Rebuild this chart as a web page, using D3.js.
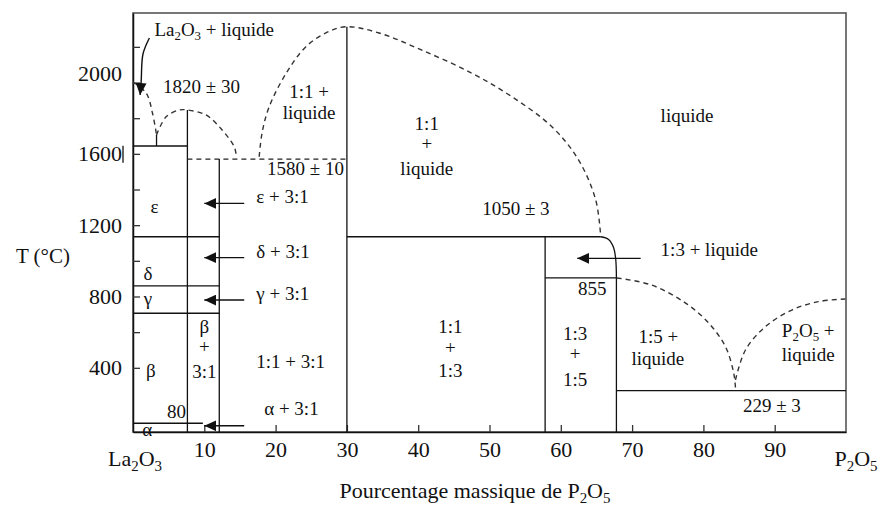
<!DOCTYPE html>
<html>
<head>
<meta charset="utf-8">
<script src="https://cdn.jsdelivr.net/npm/d3@7"></script>
<style>
  html, body { margin: 0; padding: 0; background: #fff; }
  svg { display: block; }
  text { font-family: "Liberation Serif", "Times New Roman", Times, Tinos, "Noto Serif", "DejaVu Serif", FreeSerif, serif; fill: #111; }
</style>
</head>
<body>
<svg id="chart" width="880" height="506"></svg>
<script>
const FONT = '"Liberation Serif", "Times New Roman", Times, Tinos, "Noto Serif", "DejaVu Serif", FreeSerif, serif'

// axis values
const xTicks = [10, 20, 30, 40, 50, 60, 70, 80, 90]
const yTickMarks = [400, 600, 800, 1000, 1200, 1400, 1600, 1800, 2000, 2200]
const yTickLabels = [400, 800, 1200, 1600, 2000]

// solid phase boundaries, [% P2O5, T °C]
const solidLines = [
  [[0, 1644], [7.63, 1644]],
  [[3.3, 1644], [3.3, 1706]],
  [[7.63, 1846], [7.63, 40]],
  [[12.1, 1571], [12.1, 40]],
  [[30, 2313], [30, 40]],
  [[0, 1135], [12.1, 1135]],
  [[30, 1135], [65.6, 1135]],
  [[0, 859], [12.1, 859]],
  [[0, 706], [12.1, 706]],
  [[0, 89], [9.8, 89]],
  [[57.8, 1135], [57.8, 40]],
  [[57.8, 904], [67.8, 904]],
  [[67.8, 904], [67.8, 40]],
  [[67.8, 272], [100, 272]]
]
// rounded corner of the 1:3 incongruent melting
const cornerCurve = [[65.6, 1135], [66.7, 1120], [67.4, 1075], [67.7, 1010], [67.8, 904]]

// dashed liquidus / estimated lines
const peritecticLine = [[7.63, 1571], [30, 1571]]
const liquidusLa2O3 = [[0, 2003], [1.85, 1941], [2.73, 1829], [3.3, 1706]]
const liquidus31 = [[3.3, 1706], [4.65, 1808], [6.5, 1846], [7.63, 1846], [10.25, 1818], [12.5, 1734], [14.2, 1640], [14.45, 1599]]
const liquidus11 = [[17.7, 1584], [18.1, 1717], [19.1, 1864], [21.5, 2053], [24.25, 2201], [27.05, 2278], [29.86, 2313],
  [34.5, 2278], [40.5, 2182], [47.5, 2053], [53.15, 1920], [58.75, 1752], [62.5, 1565], [64.9, 1341], [65.6, 1135]]
const liquidus15 = [[67.85, 904], [72.75, 864], [77.5, 763], [80.75, 651], [83.1, 518], [84.25, 371], [84.5, 287]]
const liquidusP2O5 = [[84.5, 332], [85.9, 500], [88.7, 631], [92.4, 724], [96.1, 771], [99.9, 786]]

// arrows
const straightArrows = [
  [[15.6, 1322], [10.0, 1322]],
  [[15.6, 1018], [10.0, 1018]],
  [[15.6, 780], [10.0, 780]],
  [[15.6, 75], [10.0, 75]],
  [[71.2, 1014], [62.3, 1014]]
]
const curvedArrow = [[2.3, 2250], [1.4, 2160], [1.15, 2010], [1.0, 1930]]

// region labels: text, % P2O5, T, anchor
const phaseLabels = [
  ['La_2O_3 + liquide', 3.0, 2261, 'start'],
  ['1820 ± 30', 9.6, 1941, 'middle'],
  ['1:1 +', 24.7, 1913, 'middle'],
  ['liquide', 24.7, 1795, 'middle'],
  ['1580 ± 10', 24.2, 1481, 'middle'],
  ['1:1', 41.2, 1734, 'middle'],
  ['+', 41.2, 1621, 'middle'],
  ['liquide', 41.2, 1481, 'middle'],
  ['liquide', 77.7, 1778, 'middle'],
  ['1050 ± 3', 53.7, 1257, 'middle'],
  ['1:3 + liquide', 74.0, 1027, 'start'],
  ['855', 64.4, 808, 'middle'],
  ['1:3', 62.0, 556, 'middle'],
  ['+', 62.0, 444, 'middle'],
  ['1:5', 62.0, 298, 'middle'],
  ['1:1', 44.5, 597, 'middle'],
  ['+', 44.5, 477, 'middle'],
  ['1:3', 44.5, 350, 'middle'],
  ['1:5 +', 73.7, 539, 'middle'],
  ['liquide', 73.6, 416, 'middle'],
  ['P_2O_5 +', 94.7, 574, 'middle'],
  ['liquide', 94.7, 438, 'middle'],
  ['229 ± 3', 89.6, 154, 'middle'],
  ['ε', 3.0, 1268, 'middle'],
  ['δ', 2.1, 892, 'middle'],
  ['γ', 2.1, 752, 'middle'],
  ['β', 2.5, 348, 'middle'],
  ['α', 2.0, 18, 'middle'],
  ['80', 6.1, 119, 'middle'],
  ['β', 10.0, 595, 'middle'],
  ['+', 10.0, 483, 'middle'],
  ['3:1', 10.0, 343, 'middle'],
  ['ε + 3:1', 17.3, 1324, 'start'],
  ['δ + 3:1', 17.3, 1016, 'start'],
  ['γ + 3:1', 17.3, 780, 'start'],
  ['1:1 + 3:1', 17.3, 399, 'start'],
  ['α + 3:1', 18.4, 135, 'start']
]

const svg = d3.select('#chart')
const x = d3.scaleLinear().domain([0, 100]).range([133, 846])
const y = d3.scaleLinear().domain([40, 2390]).range([432, 13])

const straight = d3.line().x(d => x(d[0])).y(d => y(d[1]))
const smooth = d3.line().x(d => x(d[0])).y(d => y(d[1])).curve(d3.curveCatmullRom.alpha(0.5))

// writes "La_2O_3" style strings with subscripts
function richText(sel, str, size) {
  const shift = size * 0.22
  let back = 0
  str.split(/(_\d)/).forEach(p => {
    if (!p) return
    if (p[0] === '_') {
      sel.append('tspan').attr('font-size', size * 0.68).attr('dy', shift + back).text(p[1])
      back = -shift
    } else {
      sel.append('tspan').attr('dy', back).text(p)
      back = 0
    }
  })
}

svg.append('defs').append('marker')
  .attr('id', 'head')
  .attr('viewBox', '0 0 12 11')
  .attr('refX', 12).attr('refY', 5.5)
  .attr('markerWidth', 12).attr('markerHeight', 11)
  .attr('markerUnits', 'userSpaceOnUse')
  .attr('orient', 'auto')
  .append('path').attr('d', 'M0,0 L12,5.5 L0,11 Z').attr('fill', '#111')

// frame
svg.append('rect')
  .attr('x', x(0)).attr('y', y(2390))
  .attr('width', x(100) - x(0)).attr('height', y(40) - y(2390))
  .attr('fill', 'none').attr('stroke', '#555').attr('stroke-width', 1.6)

// axes with inward ticks
const xAxis = svg.append('g').attr('transform', `translate(0,${y(40)})`)
  .call(d3.axisBottom(x).tickValues(xTicks).tickSizeInner(-7).tickSizeOuter(0).tickPadding(9))
const yAxis = svg.append('g').attr('transform', `translate(${x(0)},0)`)
  .call(d3.axisLeft(y).tickValues(yTickMarks).tickSizeInner(-7).tickSizeOuter(0).tickPadding(11)
    .tickFormat(d => yTickLabels.includes(d) ? d : ''))
;[xAxis, yAxis].forEach(a => {
  a.attr('font-family', FONT)
  a.select('.domain').attr('stroke', '#111').attr('stroke-width', 1.5)
  a.selectAll('.tick line').attr('stroke', '#333').attr('stroke-width', 1.3)
  a.selectAll('.tick text').attr('font-family', FONT).attr('font-size', 22).attr('fill', '#111')
})
yAxis.selectAll('.tick text').filter(d => d === 2000).attr('dy', '-0.1em')

// stray bar after the 1600 label
svg.append('line')
  .attr('x1', x(0) - 10).attr('x2', x(0) - 10)
  .attr('y1', y(1600) - 8).attr('y2', y(1600) + 9)
  .attr('stroke', '#111').attr('stroke-width', 1.3)

const g = svg.append('g')

g.selectAll('line.solid').data(solidLines).join('line')
  .attr('class', 'solid')
  .attr('x1', d => x(d[0][0])).attr('y1', d => y(d[0][1]))
  .attr('x2', d => x(d[1][0])).attr('y2', d => y(d[1][1]))
  .attr('stroke', '#111').attr('stroke-width', 1.3)

g.append('path').attr('d', smooth(cornerCurve))
  .attr('fill', 'none').attr('stroke', '#111').attr('stroke-width', 1.3)

g.append('path').attr('d', straight(peritecticLine))
  .attr('fill', 'none').attr('stroke', '#222').attr('stroke-width', 1.3).attr('stroke-dasharray', '5,4')

g.selectAll('path.liq').data([liquidusLa2O3, liquidus31, liquidus11, liquidus15, liquidusP2O5]).join('path')
  .attr('class', 'liq')
  .attr('d', d => smooth(d))
  .attr('fill', 'none').attr('stroke', '#333').attr('stroke-width', 1.4).attr('stroke-dasharray', '5,4')

g.selectAll('path.arrow').data(straightArrows).join('path')
  .attr('class', 'arrow')
  .attr('d', d => straight(d))
  .attr('fill', 'none').attr('stroke', '#111').attr('stroke-width', 1.4)
  .attr('marker-end', 'url(#head)')

g.append('path').attr('d', smooth(curvedArrow))
  .attr('fill', 'none').attr('stroke', '#111').attr('stroke-width', 1.4)
  .attr('marker-end', 'url(#head)')

g.selectAll('text.lbl').data(phaseLabels).join('text')
  .attr('class', 'lbl')
  .attr('x', d => x(d[1])).attr('y', d => y(d[2]))
  .attr('text-anchor', d => d[3])
  .attr('font-family', FONT)
  .attr('font-size', 19)
  .each(function (d) { richText(d3.select(this), d[0], 19) })

// end labels and titles
const label = (tx, ty, anchor, size) => svg.append('text')
  .attr('x', tx).attr('y', ty).attr('text-anchor', anchor)
  .attr('font-family', FONT).attr('font-size', size)
label(135, 466, 'middle', 22).call(s => richText(s, 'La_2O_3', 22))
label(856, 466, 'middle', 22).call(s => richText(s, 'P_2O_5', 22))
label(475, 498, 'middle', 22).call(s => richText(s, 'Pourcentage massique de P_2O_5', 22))
label(70, 263, 'end', 21).text('T (°C)')
</script>
</body>
</html>
